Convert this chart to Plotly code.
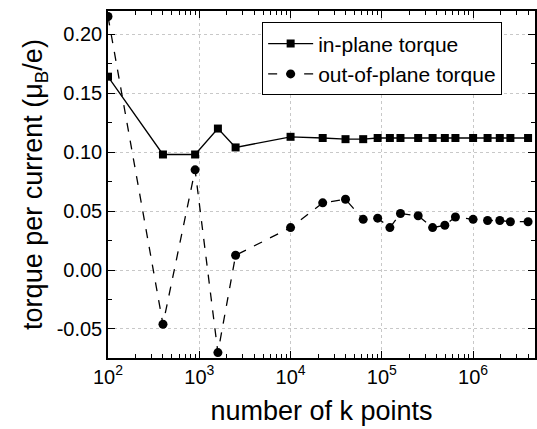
import plotly.graph_objects as go

k_points = [100, 400, 900, 1600, 2500, 10000, 22500, 40000, 62500, 90000, 122500,
            160000, 250000, 360000, 490000, 640000, 1000000, 1440000, 1960000,
            2560000, 4000000]
in_plane = [0.164, 0.098, 0.098, 0.120, 0.104, 0.113, 0.112, 0.111, 0.111, 0.112,
            0.112, 0.112, 0.112, 0.112, 0.112, 0.112, 0.112, 0.112, 0.112, 0.112, 0.112]
out_of_plane = [0.215, -0.046, 0.085, -0.070, 0.0125, 0.036, 0.057, 0.060, 0.043,
                0.044, 0.036, 0.048, 0.046, 0.036, 0.038, 0.045, 0.043, 0.042,
                0.042, 0.041, 0.041]
x_tickvals = [1e2, 1e3, 1e4, 1e5, 1e6]
x_ticktext = ["10<sup>2</sup>", "10<sup>3</sup>", "10<sup>4</sup>", "10<sup>5</sup>", "10<sup>6</sup>"]
y_tickvals = [-0.05, 0.0, 0.05, 0.10, 0.15, 0.20]
y_ticktext = ["-0.05", "0.00", "0.05", "0.10", "0.15", "0.20"]

FONT = "Liberation Sans, Arial, sans-serif"

fig = go.Figure()
fig.add_trace(go.Scatter(
    x=k_points, y=in_plane, name="in-plane torque", mode="lines+markers",
    line=dict(color="black", width=1.3),
    marker=dict(symbol="square", size=8, color="black"),
))
fig.add_trace(go.Scatter(
    x=k_points, y=out_of_plane, name="out-of-plane torque", mode="lines+markers",
    line=dict(color="black", width=1.3, dash="dash"),
    marker=dict(symbol="circle", size=9, color="black"),
))

fig.update_layout(
    width=537, height=429,
    margin=dict(l=108, r=0, t=11, b=71),
    paper_bgcolor="white", plot_bgcolor="white",
    font=dict(family=FONT, color="black", size=20),
    legend=dict(
        x=0.361, y=0.967, xanchor="left", yanchor="top",
        bordercolor="black", borderwidth=1, bgcolor="white",
        font=dict(size=21, family=FONT), tracegroupgap=0, itemwidth=45,
    ),
    showlegend=True,
)
fig.update_xaxes(
    type="log", range=[2, 6.678],
    tickvals=x_tickvals, ticktext=x_ticktext,
    ticks="inside", ticklen=7, tickwidth=1.2, tickcolor="black",
    showline=True, linecolor="black", linewidth=1.5, mirror="ticks",
    showgrid=True, gridcolor="#c8c8c8", griddash="dot", gridwidth=1,
    zeroline=False,
    tickfont=dict(size=20, family=FONT),
    title=dict(text="number of k points", font=dict(size=27, family=FONT), standoff=14),
    minor=dict(ticks="inside", ticklen=4, tickcolor="black", showgrid=False,
               tickvals=[m * 10 ** e for e in range(2, 7) for m in range(2, 10)]),
)
fig.update_yaxes(
    range=[-0.0746, 0.2197],
    tickvals=y_tickvals, ticktext=y_ticktext,
    ticks="inside", ticklen=7, tickwidth=1.2, tickcolor="black",
    showline=True, linecolor="black", linewidth=1.5, mirror="ticks",
    showgrid=True, gridcolor="#c8c8c8", griddash="dot", gridwidth=1,
    zeroline=False,
    tickfont=dict(size=20, family=FONT),
    title=dict(text="torque per current (μ<sub>B</sub>/e)", font=dict(size=27, family=FONT), standoff=6),
    minor=dict(ticks="inside", ticklen=4, tickcolor="black", showgrid=False,
               tickvals=[-0.075, -0.025, 0.025, 0.075, 0.125, 0.175]),
)

fig.write_html("out.html", config={"displayModeBar": False},
               post_script="document.body.style.margin='0';")
